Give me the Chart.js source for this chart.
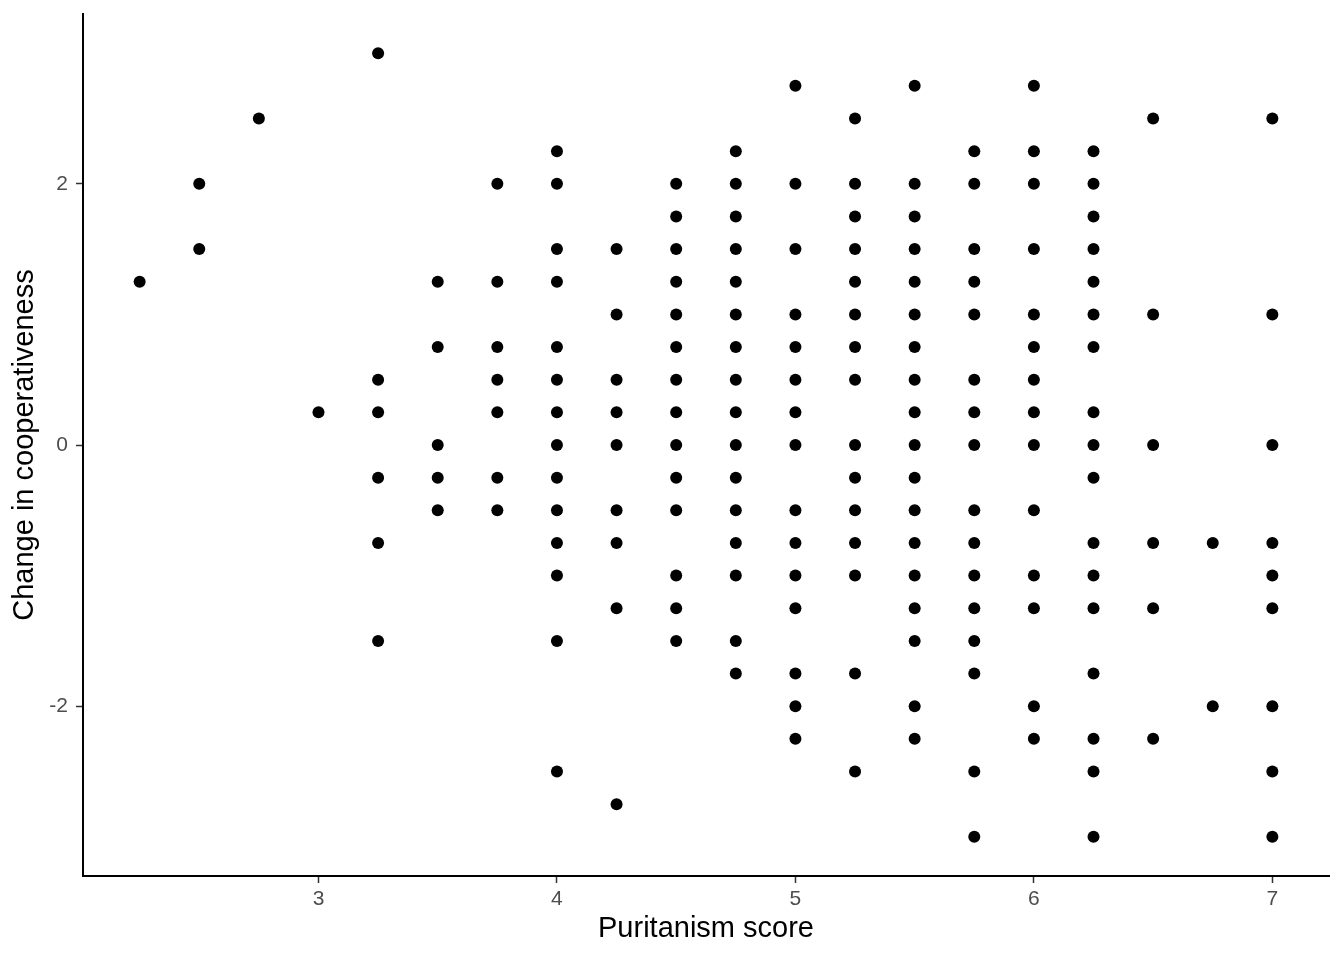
<!DOCTYPE html>
<html>
<head>
<meta charset="utf-8">
<title>Puritanism score vs change in cooperativeness</title>
<script src="https://cdn.jsdelivr.net/npm/chart.js@4.4.1/dist/chart.umd.min.js"></script>
<style>
  html, body { margin: 0; padding: 0; background: #ffffff; }
  #wrap { width: 1344px; height: 960px; position: relative; }
</style>
</head>
<body>
<div id="wrap"><canvas id="chart_puritanismScatter"></canvas></div>
<script>
// x ticks / y ticks shown on the axes
var xTickValues = [3, 4, 5, 6, 7];
var yTickValues = [-2, 0, 2];

// one array per puritanism score: the changes in cooperativeness seen at that score
var score_2_25 = [1.25];
var score_2_50 = [2, 1.5];
var score_2_75 = [2.5];
var score_3_00 = [0.25];
var score_3_25 = [3, 0.5, 0.25, -0.25, -0.75, -1.5];
var score_3_50 = [1.25, 0.75, 0, -0.25, -0.5];
var score_3_75 = [2, 1.25, 0.75, 0.5, 0.25, -0.25, -0.5];
var score_4_00 = [2.25, 2, 1.5, 1.25, 0.75, 0.5, 0.25, 0, -0.25, -0.5, -0.75, -1, -1.5, -2.5];
var score_4_25 = [1.5, 1, 0.5, 0.25, 0, -0.5, -0.75, -1.25, -2.75];
var score_4_50 = [2, 1.75, 1.5, 1.25, 1, 0.75, 0.5, 0.25, 0, -0.25, -0.5, -1, -1.25, -1.5];
var score_4_75 = [2.25, 2, 1.75, 1.5, 1.25, 1, 0.75, 0.5, 0.25, 0, -0.25, -0.5, -0.75, -1, -1.5, -1.75];
var score_5_00 = [2.75, 2, 1.5, 1, 0.75, 0.5, 0.25, 0, -0.5, -0.75, -1, -1.25, -1.75, -2, -2.25];
var score_5_25 = [2.5, 2, 1.75, 1.5, 1.25, 1, 0.75, 0.5, 0, -0.25, -0.5, -0.75, -1, -1.75, -2.5];
var score_5_50 = [2.75, 2, 1.75, 1.5, 1.25, 1, 0.75, 0.5, 0.25, 0, -0.25, -0.5, -0.75, -1, -1.25, -1.5, -2, -2.25];
var score_5_75 = [2.25, 2, 1.5, 1.25, 1, 0.5, 0.25, 0, -0.5, -0.75, -1, -1.25, -1.5, -1.75, -2.5, -3];
var score_6_00 = [2.75, 2.25, 2, 1.5, 1, 0.75, 0.5, 0.25, 0, -0.5, -1, -1.25, -2, -2.25];
var score_6_25 = [2.25, 2, 1.75, 1.5, 1.25, 1, 0.75, 0.25, 0, -0.25, -0.75, -1, -1.25, -1.75, -2.25, -2.5, -3];
var score_6_50 = [2.5, 1, 0, -0.75, -1.25, -2.25];
var score_6_75 = [-0.75, -2];
var score_7_00 = [2.5, 1, 0, -0.75, -1, -1.25, -2, -2.5, -3];

var puritanismScores = [2.25, 2.5, 2.75, 3, 3.25, 3.5, 3.75, 4, 4.25, 4.5, 4.75, 5, 5.25, 5.5, 5.75, 6, 6.25, 6.5, 6.75, 7];
var changeColumns = [score_2_25, score_2_50, score_2_75, score_3_00, score_3_25, score_3_50, score_3_75,
  score_4_00, score_4_25, score_4_50, score_4_75, score_5_00, score_5_25, score_5_50, score_5_75,
  score_6_00, score_6_25, score_6_50, score_6_75, score_7_00];

var points = [];
puritanismScores.forEach(function(score, i) {
  changeColumns[i].forEach(function(change) {
    points.push({x: score, y: change});
  });
});

// ggplot-style 5% expansion of the data range
var xMin = 2.25, xMax = 7, yMin = -3, yMax = 3;
var xPad = (xMax - xMin) * 0.05, yPad = (yMax - yMin) * 0.05;

var fontFamily = "'Liberation Sans', Arial, Helvetica, sans-serif";

var chart_puritanismScatter = new Chart(document.getElementById('chart_puritanismScatter'), {
    type: 'scatter',
    data: {
        datasets: [
            {
                label: 'Change in cooperativeness',
                data: points,
                backgroundColor: '#000000',
                borderColor: '#000000',
                borderWidth: 0,
                pointRadius: 6,
                pointHoverRadius: 6
            }
        ]
    },
    options: {
        animation: false,
        responsive: true,
        maintainAspectRatio: false,
        layout: {
            autoPadding: false,
            padding: {left: 0, right: 15, top: 14, bottom: 0}
        },
        plugins: {
            legend: {display: false},
            tooltip: {enabled: false}
        },
        scales: {
            x: {
                type: 'linear',
                min: xMin - xPad,
                max: xMax + xPad,
                title: {
                    display: true,
                    text: 'Puritanism score',
                    color: '#000000',
                    font: {family: fontFamily, size: 29},
                    padding: {top: 0, bottom: 14}
                },
                grid: {
                    display: true,
                    drawOnChartArea: false,
                    drawTicks: true,
                    tickLength: 7,
                    tickWidth: 1.5,
                    tickColor: '#333333'
                },
                border: {display: true, color: '#000000', width: 2},
                ticks: {
                    color: '#4D4D4D',
                    font: {family: fontFamily, size: 21},
                    padding: 4,
                    maxRotation: 0,
                    callback: function(value) { return String(value); }
                },
                afterBuildTicks: function(scale) {
                    scale.ticks = xTickValues.map(function(v) { return {value: v}; });
                },
                afterFit: function(scale) {
                    scale.height = 84;
                    scale.paddingLeft = 0;
                    scale.paddingRight = 0;
                }
            },
            y: {
                type: 'linear',
                min: yMin - yPad,
                max: yMax + yPad,
                title: {
                    display: true,
                    text: 'Change in cooperativeness',
                    color: '#000000',
                    font: {family: fontFamily, size: 29},
                    padding: {top: 8, bottom: 0}
                },
                grid: {
                    display: true,
                    drawOnChartArea: false,
                    drawTicks: true,
                    tickLength: 7,
                    tickWidth: 1.5,
                    tickColor: '#333333'
                },
                border: {display: true, color: '#000000', width: 2},
                ticks: {
                    color: '#4D4D4D',
                    font: {family: fontFamily, size: 21},
                    padding: 8,
                    callback: function(value) { return String(value); }
                },
                afterBuildTicks: function(scale) {
                    scale.ticks = yTickValues.map(function(v) { return {value: v}; });
                },
                afterFit: function(scale) {
                    scale.width = 83;
                    scale.paddingTop = 0;
                    scale.paddingBottom = 0;
                }
            }
        }
    },
    plugins: [{
        id: 'whiteBackground',
        beforeDraw: function(chart) {
            var ctx = chart.canvas.getContext('2d');
            ctx.save();
            ctx.globalCompositeOperation = 'destination-over';
            ctx.fillStyle = 'white';
            ctx.fillRect(0, 0, chart.canvas.width, chart.canvas.height);
            ctx.restore();
        }
    }]
});
</script>
</body>
</html>
